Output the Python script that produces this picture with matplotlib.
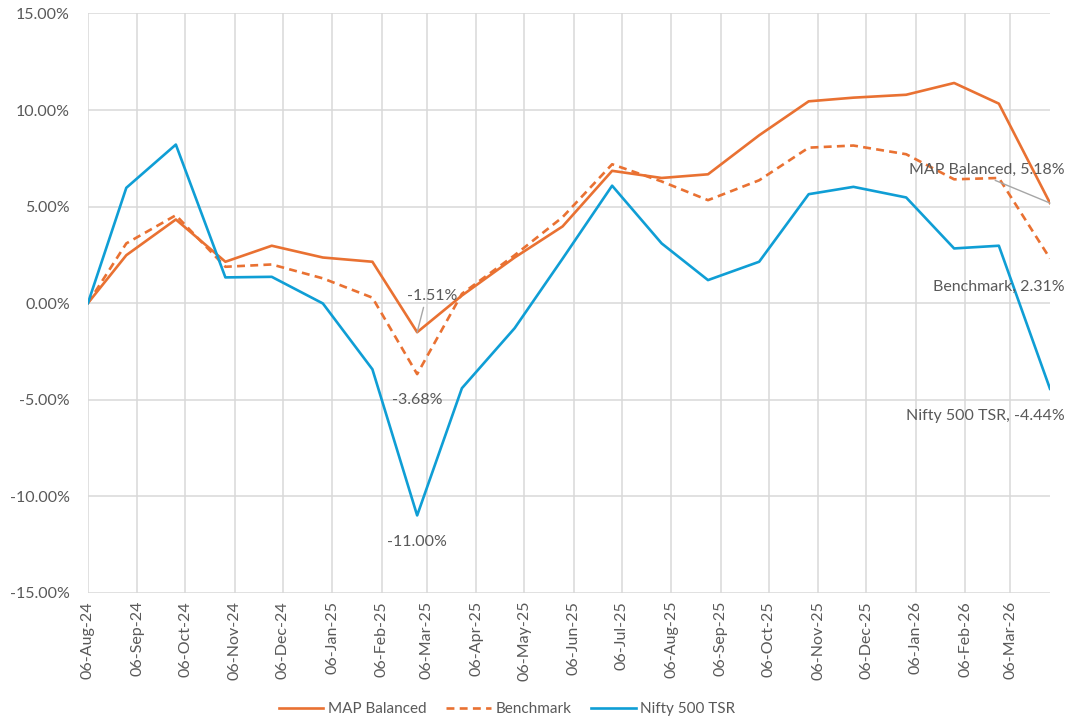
import matplotlib
matplotlib.use('Agg')
import matplotlib.pyplot as plt
import matplotlib.dates as mdates
from matplotlib.ticker import FuncFormatter, MultipleLocator
import pandas as pd

# month-end valuation dates
dates = pd.to_datetime([
    '2024-08-06', '2024-08-30', '2024-09-30', '2024-10-31', '2024-11-29',
    '2024-12-31', '2025-01-31', '2025-02-28', '2025-03-28', '2025-04-30',
    '2025-05-30', '2025-06-30', '2025-07-31', '2025-08-29', '2025-09-30',
    '2025-10-31', '2025-11-28', '2025-12-31', '2026-01-30', '2026-02-27',
    '2026-03-31'])

# cumulative returns in %
map_balanced = [0.00, 2.48, 4.33, 2.14, 2.97, 2.36, 2.14, -1.51, 0.39, 2.36,
                3.97, 6.85, 6.48, 6.67, 8.69, 10.45, 10.64, 10.79, 11.40, 10.33, 5.18]
benchmark = [0.00, 3.09, 4.55, 1.88, 2.00, 1.28, 0.28, -3.68, 0.48, 2.48,
             4.45, 7.19, 6.30, 5.33, 6.36, 8.05, 8.16, 7.71, 6.41, 6.48, 2.31]
nifty_500 = [0.00, 5.97, 8.21, 1.33, 1.36, -0.02, -3.43, -11.00, -4.41, -1.30,
             2.30, 6.08, 3.09, 1.19, 2.14, 5.64, 6.02, 5.47, 2.83, 2.97, -4.44]

# gridline / tick dates: the 6th of each month
ticks = pd.date_range('2024-08-01', '2026-03-01', freq='MS') + pd.Timedelta(days=5)

plt.rcParams['font.family'] = ['Lato', 'DejaVu Sans']
orange = '#E97132'
blue = '#0F9ED5'
grey_txt = '#595959'
grid_col = '#D9D9D9'

fig = plt.figure(figsize=(10.7, 7.21), dpi=100)
ax = fig.add_axes([0.0822, 0.178, 0.8991, 0.8033])

ax.plot(dates, map_balanced, color=orange, lw=1.9, label='MAP Balanced')
ax.plot(dates, benchmark, color=orange, lw=1.9, ls=(0, (3, 2)), label='Benchmark')
ax.plot(dates, nifty_500, color=blue, lw=1.9, label='Nifty 500 TSR')

ax.set_ylim(-15, 15)
ax.set_xlim(dates[0], dates[-1])
ax.yaxis.set_major_locator(MultipleLocator(5))
ax.yaxis.set_major_formatter(FuncFormatter(lambda v, p: '%.2f%%' % v))
ax.set_xticks(ticks)
ax.xaxis.set_major_formatter(mdates.DateFormatter('%d-%b-%y'))
plt.setp(ax.get_xticklabels(), rotation=90)

ax.grid(True, color=grid_col, lw=1.1)
ax.set_axisbelow(True)
for s in ax.spines.values():
    s.set_visible(False)
ax.tick_params(length=0, labelsize=11.5, colors=grey_txt)
ax.tick_params(axis='y', pad=13)
ax.tick_params(axis='x', pad=6)

# data labels
lbl = dict(textcoords='offset pixels', fontsize=11.5, color=grey_txt)
i_low = 7
ax.annotate('%.2f%%' % map_balanced[i_low], (dates[i_low], map_balanced[i_low]),
            xytext=(15, 36), ha='center', va='center',
            arrowprops=dict(arrowstyle='-', color='#A6A6A6', lw=1, shrinkA=1, shrinkB=0,
                            relpos=(0.35, 0)), **lbl)
ax.annotate('%.2f%%' % benchmark[i_low], (dates[i_low], benchmark[i_low]),
            xytext=(0, -26), ha='center', va='center', **lbl)
ax.annotate('%.2f%%' % nifty_500[i_low], (dates[i_low], nifty_500[i_low]),
            xytext=(0, -27), ha='center', va='center', **lbl)

ax.annotate('MAP Balanced, %.2f%%' % map_balanced[-1], (dates[-1], map_balanced[-1]),
            xytext=(15, 33), ha='right', va='center',
            arrowprops=dict(arrowstyle='-', color='#A6A6A6', lw=1, shrinkA=1, shrinkB=0,
                            relpos=(0.5, 0)),
            annotation_clip=False, **lbl)
ax.annotate('Benchmark, %.2f%%' % benchmark[-1], (dates[-1], benchmark[-1]),
            xytext=(15, -28), ha='right', va='center', annotation_clip=False, **lbl)
ax.annotate('Nifty 500 TSR, %.2f%%' % nifty_500[-1], (dates[-1], nifty_500[-1]),
            xytext=(15, -27), ha='right', va='center', annotation_clip=False, **lbl)

leg = fig.legend(loc='center', bbox_to_anchor=(0.474, 0.016), ncol=3, frameon=False,
                 fontsize=11, handlelength=2.9, columnspacing=1.3, handletextpad=0.3)
for t in leg.get_texts():
    t.set_color(grey_txt)

fig.savefig('out.png', dpi=100)
